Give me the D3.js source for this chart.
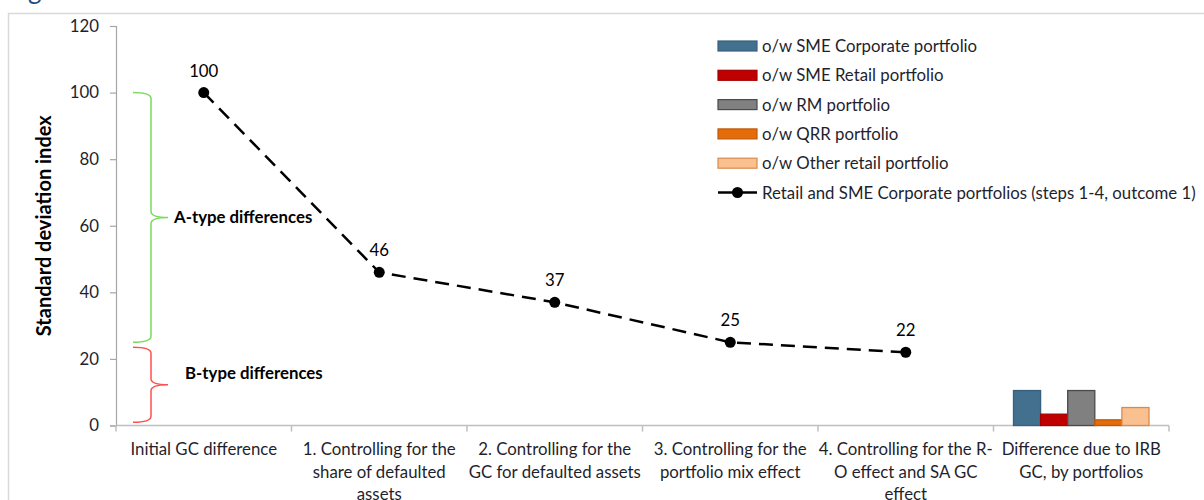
<!DOCTYPE html>
<html>
<head>
<meta charset="utf-8">
<script src="https://cdn.jsdelivr.net/npm/d3@7"></script>
<style>
  html, body { margin: 0; padding: 0; background: #fff; }
  svg { display: block; font-family: Lato, "Open Sans", sans-serif; }
</style>
</head>
<body>
<svg id="chart" width="1204" height="500"></svg>
<script>
// ---------------- data ----------------
const categories = [
  "Initial GC difference",
  "1. Controlling for the share of defaulted assets",
  "2. Controlling for the GC for defaulted assets",
  "3. Controlling for the portfolio mix effect",
  "4. Controlling for the R-O effect and SA GC effect",
  "Difference due to IRB GC, by portfolios"
];
const categoryLines = [
  ["Initial GC difference"],
  ["1. Controlling for the", "share of defaulted", "assets"],
  ["2. Controlling for the", "GC for defaulted assets"],
  ["3. Controlling for the", "portfolio mix effect"],
  ["4. Controlling for the R-", "O effect and SA GC", "effect"],
  ["Difference due to IRB", "GC, by portfolios"]
];
const lineSeriesName = "Retail and SME Corporate portfolios (steps 1-4, outcome 1)";
const lineValues = [100, 46, 37, 25, 22];           // first five categories
const barSeries = [
  "o/w SME Corporate portfolio",
  "o/w SME Retail portfolio",
  "o/w RM portfolio",
  "o/w QRR portfolio",
  "o/w Other retail portfolio"
];
const barValues = [10.5, 3.4, 10.5, 1.7, 5.4];       // last category
const yTicks = [0, 20, 40, 60, 80, 100, 120];
const braceNames = ["A-type differences", "B-type differences"];
const braceRanges = [[100, 25], [23.5, 1]];
const yAxisTitle = "Standard deviation index";

// ---------------- styles ----------------
const barFill   = ["#44708f", "#c00000", "#808080", "#e46c0a", "#fac090"];
const barStroke = ["#36607e", "#a50000", "#4a4a4a", "#c05a08", "#d98a4c"];
const braceColors = ["#7ada5c", "#ff5050"];
const braceLabelX = [174, 185];
const braceLabelDy = [6, -6];
const textColor = "#1f1f2e";
const fs = 16.8;

const svg = d3.select("#chart");

// frame and cut-off title
svg.append("text").attr("x", 28).attr("y", -1).attr("font-size", 26)
  .attr("fill", "#1f4e79").text("g");
svg.append("rect").attr("x", 8.5).attr("y", 13.5).attr("width", 1300).attr("height", 600)
  .attr("fill", "none").attr("stroke", "#d9d9d9").attr("stroke-width", 1.5);

const pLeft = 116, pRight = 1169, pTop = 26, pBottom = 425.5;
const x = d3.scaleBand().domain(categories).range([pLeft, pRight]).padding(0);
const y = d3.scaleLinear().domain([0, 120]).range([pBottom, pTop]);

// y axis
const yAxis = svg.append("g").attr("transform", `translate(${pLeft},0)`)
  .call(d3.axisLeft(y).tickValues(yTicks).tickSize(6).tickPadding(11));
yAxis.select(".domain").attr("stroke", "#a6a6a6").attr("stroke-width", 1.2);
yAxis.selectAll(".tick line").attr("stroke", "#a6a6a6").attr("stroke-width", 1.2);
yAxis.selectAll(".tick text").attr("font-size", fs).attr("fill", textColor)
  .attr("font-family", "Lato, sans-serif");

// y axis title
svg.append("text")
  .attr("transform", `translate(51,${(y(0) + y(120)) / 2}) rotate(-90)`)
  .attr("text-anchor", "middle").attr("font-weight", "bold").attr("font-size", 20)
  .attr("fill", "#000").text(yAxisTitle);

// x axis
const xAxisG = svg.append("g").attr("transform", `translate(0,${y(0)})`);
xAxisG.append("line").attr("x1", pLeft).attr("x2", pRight).attr("y1", 0).attr("y2", 0)
  .attr("stroke", "#bfbfbf").attr("stroke-width", 1.5);
const boundaries = categories.map(c => x(c)).concat([x(categories[categories.length - 1]) + x.bandwidth()]);
xAxisG.selectAll("line.tk").data(boundaries).enter().append("line").attr("class", "tk")
  .attr("x1", d => d).attr("x2", d => d).attr("y1", 0).attr("y2", 6)
  .attr("stroke", "#bfbfbf").attr("stroke-width", 1.5);
const lab = xAxisG.selectAll("text.cat").data(categories).enter().append("text").attr("class", "cat")
  .attr("text-anchor", "middle").attr("font-size", fs).attr("fill", textColor)
  .attr("transform", d => `translate(${x(d) + x.bandwidth() / 2},0)`);
lab.each(function(d, i) {
  const t = d3.select(this);
  categoryLines[i].forEach((ln, j) => {
    t.append("tspan").attr("x", 0).attr("y", 29.5 + j * 22.5).text(ln);
  });
});

// bars in last category
const lastCat = categories[categories.length - 1];
const xb = d3.scaleBand().domain(barSeries)
  .range([x(lastCat) + 20, x(lastCat) + x.bandwidth() - 20]).padding(0);
svg.append("g").selectAll("rect").data(barSeries).enter().append("rect")
  .attr("x", d => xb(d)).attr("width", xb.bandwidth())
  .attr("y", (d, i) => y(barValues[i])).attr("height", (d, i) => y(0) - y(barValues[i]))
  .attr("fill", (d, i) => barFill[i]).attr("stroke", (d, i) => barStroke[i]).attr("stroke-width", 1.3);

// braces
function bracePath(yTop, yBot, x0, x1, xTip) {
  const mid = (yTop + yBot) / 2, r = 6;
  return `M${x0},${yTop} Q${x1},${yTop} ${x1},${yTop + r} L${x1},${mid - r} Q${x1},${mid} ${xTip},${mid}` +
         ` Q${x1},${mid} ${x1},${mid + r} L${x1},${yBot - r} Q${x1},${yBot} ${x0},${yBot}`;
}
braceRanges.forEach((rg, i) => {
  const yt = y(rg[0]), yb = y(rg[1]);
  svg.append("path").attr("d", bracePath(yt, yb, 133, 151, 168))
    .attr("fill", "none").attr("stroke", braceColors[i]).attr("stroke-width", 1.5);
  svg.append("text").attr("x", braceLabelX[i]).attr("y", (yt + yb) / 2 + braceLabelDy[i])
    .attr("font-weight", "bold").attr("font-size", 16.8).attr("fill", "#000").text(braceNames[i]);
});

// line series
svg.append("path").datum(lineValues)
  .attr("d", d3.line().x((d, i) => x(categories[i]) + x.bandwidth() / 2).y(d => y(d)))
  .attr("fill", "none").attr("stroke", "#000").attr("stroke-width", 2.5)
  .attr("stroke-dasharray", "14,8");
svg.append("g").selectAll("circle").data(lineValues).enter().append("circle")
  .attr("cx", (d, i) => x(categories[i]) + x.bandwidth() / 2).attr("cy", d => y(d))
  .attr("r", 5.5).attr("fill", "#000");
svg.append("g").selectAll("text").data(lineValues).enter().append("text")
  .attr("x", (d, i) => x(categories[i]) + x.bandwidth() / 2).attr("y", d => y(d) - 16)
  .attr("text-anchor", "middle").attr("font-size", fs).attr("fill", "#000").text(d => d);

// legend
const lg = svg.append("g").attr("transform", "translate(718,0)");
const rowY = i => 46 + i * 29.3;
barSeries.forEach((s, i) => {
  lg.append("rect").attr("x", 0).attr("y", rowY(i) - 5).attr("width", 39).attr("height", 10)
    .attr("fill", barFill[i]).attr("stroke", barStroke[i]).attr("stroke-width", 1.2);
  lg.append("text").attr("x", 44).attr("y", rowY(i) + 6).attr("font-size", fs)
    .attr("fill", textColor).text(s);
});
const li = barSeries.length;
lg.append("line").attr("x1", 0).attr("x2", 39).attr("y1", rowY(li)).attr("y2", rowY(li))
  .attr("stroke", "#000").attr("stroke-width", 2.5);
lg.append("circle").attr("cx", 19.5).attr("cy", rowY(li)).attr("r", 5.5).attr("fill", "#000");
lg.append("text").attr("x", 44).attr("y", rowY(li) + 6).attr("font-size", fs)
  .attr("fill", textColor).text(lineSeriesName);
</script>
</body>
</html>
